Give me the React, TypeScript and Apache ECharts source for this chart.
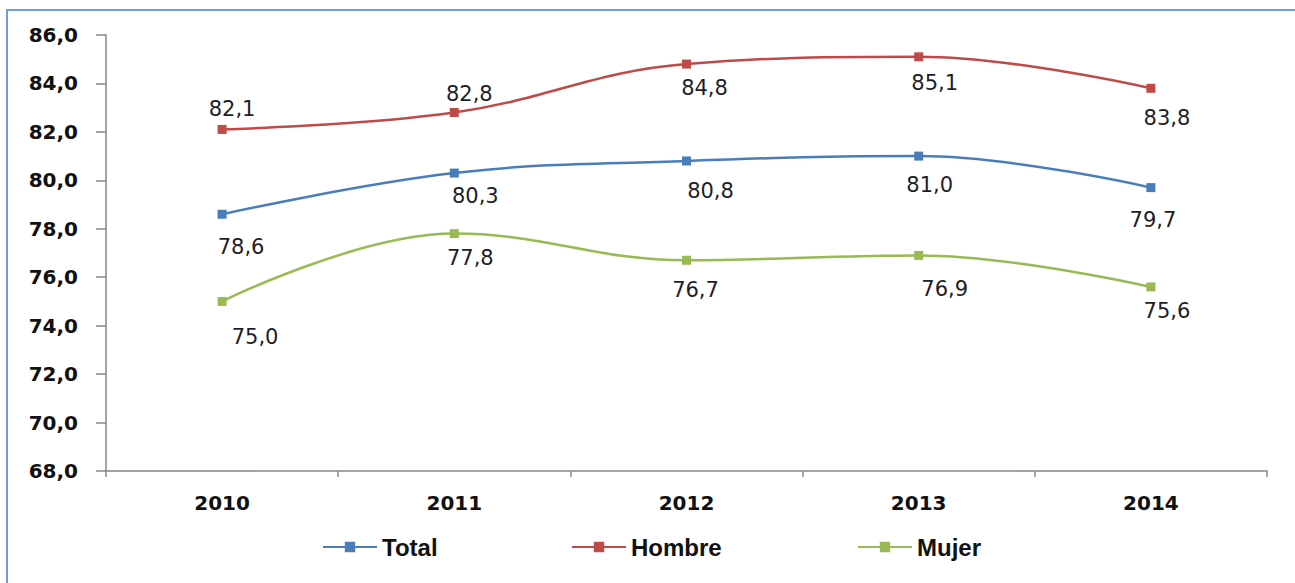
import React, { useEffect, useRef } from "react";
import * as echarts from "echarts";

const categories = ["2010", "2011", "2012", "2013", "2014"];
const totalValues = [78.6, 80.3, 80.8, 81.0, 79.7];
const hombreValues = [82.1, 82.8, 84.8, 85.1, 83.8];
const mujerValues = [75.0, 77.8, 76.7, 76.9, 75.6];
const seriesNames = ["Total", "Hombre", "Mujer"];

// label placement (layout only, in px relative to each point)
const totalLabelOffsets = [[19, 33], [21, 23], [24, 30], [11, 29], [2, 32]];
const hombreLabelOffsets = [[10, -20], [15, -19], [18, 24], [16, 26], [16, 30]];
const mujerLabelOffsets = [[33, 36], [16, 24], [9, 30], [26, 34], [16, 24]];

const colors = ["#4A7EBB", "#BE4B48", "#98B954"];
const fmt = (v: number) => v.toFixed(1).replace(".", ",");

function buildData(values: number[], offsets: number[][]) {
  return values.map((v, i) => ({
    value: v,
    label: { offset: offsets[i] },
  }));
}

export default function App() {
  const ref = useRef<HTMLDivElement>(null);
  useEffect(() => {
    if (!ref.current) return;
    const chart = echarts.init(ref.current, undefined, { renderer: "svg" });
    const mk = (name: string, values: number[], offsets: number[][], color: string) => ({
      name,
      type: "line",
      smooth: 0.4,
      symbol: "rect",
      symbolSize: 9,
      data: buildData(values, offsets),
      itemStyle: { color },
      lineStyle: { color, width: 2.5 },
      label: {
        show: true,
        position: "inside",
        formatter: (p: any) => fmt(p.value),
        fontFamily: "DejaVu Sans",
        fontSize: 21,
        color: "#1e1e28",
      },
      emphasis: { disabled: true },
    });
    const legendCommon = {
      top: 530,
      itemWidth: 54,
      itemHeight: 13,
      itemGap: 10,
      textStyle: {
        fontFamily: "Liberation Sans",
        fontWeight: "bold",
        fontSize: 24,
        color: "#111",
      },
      selectedMode: false,
    };
    chart.setOption({
      animation: false,
      backgroundColor: "#ffffff",
      graphic: [
        {
          type: "rect",
          shape: { x: 7, y: 10, width: 1400, height: 700 },
          style: { fill: "none", stroke: "#6c9ddf", lineWidth: 2 },
          silent: true,
          z: -10,
        },
      ],
      grid: { left: 106, right: 28, top: 35, bottom: 112, containLabel: false },
      legend: [
        { ...legendCommon, left: 317, data: [seriesNames[0]] },
        { ...legendCommon, left: 566, data: [seriesNames[1]] },
        { ...legendCommon, left: 852, data: [seriesNames[2]] },
      ],
      xAxis: {
        type: "category",
        data: categories,
        boundaryGap: true,
        axisLine: { lineStyle: { color: "#878787", width: 1.5 } },
        axisTick: { show: true, alignWithLabel: false, length: 6, lineStyle: { color: "#878787", width: 1.5 } },
        axisLabel: {
          margin: 22,
          fontFamily: "DejaVu Sans",
          fontWeight: "bold",
          fontSize: 20,
          color: "#111",
        },
        splitLine: { show: false },
      },
      yAxis: {
        type: "value",
        min: 68,
        max: 86,
        interval: 2,
        axisLine: { show: true, lineStyle: { color: "#878787", width: 1.5 } },
        axisTick: { show: true, length: 10, lineStyle: { color: "#878787", width: 1.5 } },
        axisLabel: {
          margin: 28,
          formatter: (v: number) => fmt(v),
          fontFamily: "DejaVu Sans",
          fontWeight: "bold",
          fontSize: 20,
          color: "#111",
        },
        splitLine: { show: false },
      },
      series: [
        mk(seriesNames[0], totalValues, totalLabelOffsets, colors[0]),
        mk(seriesNames[1], hombreValues, hombreLabelOffsets, colors[1]),
        mk(seriesNames[2], mujerValues, mujerLabelOffsets, colors[2]),
      ],
    });
    return () => chart.dispose();
  }, []);
  return (
    <div
      ref={ref}
      style={{ position: "absolute", left: 0, top: 0, width: 1295, height: 583 }}
    />
  );
}
